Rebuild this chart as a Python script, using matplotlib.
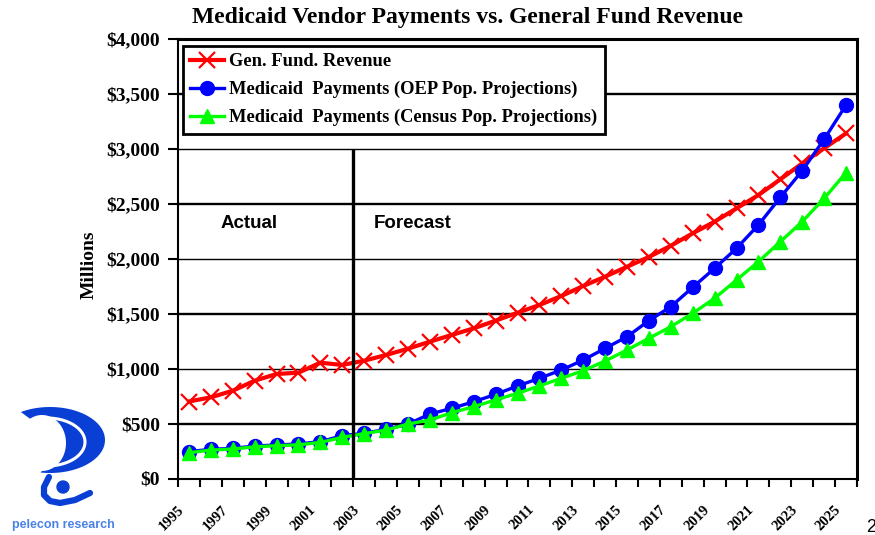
import numpy as np
import matplotlib.pyplot as plt
from matplotlib.ticker import FixedLocator, FuncFormatter
from matplotlib.transforms import ScaledTranslation
from matplotlib.patches import Polygon, Circle

# data ($ millions)
years = list(range(1995, 2026))
revenue = [700, 738, 798, 889, 950, 962, 1053, 1032,
           1071, 1123, 1180, 1244, 1305, 1365, 1435, 1507, 1577, 1659, 1750, 1835, 1925, 2014,
           2116, 2229, 2335, 2456, 2577, 2720, 2865, 3002, 3138]
oep = [245, 265, 274, 295, 305, 314, 335, 389,
       411, 447, 495, 586, 638, 698, 765, 841, 911, 986, 1077, 1183, 1289, 1435,
       1562, 1738, 1911, 2093, 2305, 2556, 2798, 3084, 3395]
census = [235, 258, 268, 288, 298, 306, 328, 374,
          408, 440, 495, 532, 598, 653, 714, 775, 841, 911, 980, 1068, 1168, 1275,
          1380, 1502, 1638, 1805, 1971, 2153, 2335, 2547, 2780]
labels = ['Gen. Fund. Revenue',
          'Medicaid  Payments (OEP Pop. Projections)',
          'Medicaid  Payments (Census Pop. Projections)']

split_x = 7.5          # between 2002 and 2003
split_top = 3000
serif = 'Liberation Serif'
sans = 'Liberation Sans'

fig = plt.figure(figsize=(8.75, 5.35), dpi=100)
ax = fig.add_axes([178/875, 56.5/535, 679/875, 440/535])

x = np.arange(len(years))
ax.plot(x, revenue, color='#ff0000', lw=3, marker='x', ms=11, mew=1.6, zorder=3, label=labels[0])
ax.plot(x, oep, color='#0000ff', lw=2.4, marker='o', ms=10, zorder=4, label=labels[1])
ax.plot(x, census, color='#00ff00', lw=2.4, marker='^', ms=10, zorder=5, label=labels[2])

ax.vlines(split_x, 0, split_top, color='black', lw=2.4, zorder=6)
ax.text(1.45, 2314, 'Actual', family=sans, weight='bold', fontsize=13.5, va='center')
ax.text(8.45, 2314, 'Forecast', family=sans, weight='bold', fontsize=13.5, va='center')

ax.set_xlim(-0.5, len(years) - 0.5)
ax.set_ylim(0, 4000)
ax.set_yticks(np.arange(0, 4001, 500))
ax.yaxis.set_major_formatter(FuncFormatter(lambda v, p: '${:,.0f}'.format(v)))
ax.yaxis.grid(True, color='black')
for i, gl in enumerate(ax.get_ygridlines()):
    gl.set_linewidth(1.7 if i % 2 else 1.0)
ax.set_axisbelow(True)

ax.xaxis.set_major_locator(FixedLocator(np.arange(-0.5, len(years), 1)))
ax.xaxis.set_major_formatter(FuncFormatter(lambda v, p: ''))
ax.xaxis.set_minor_locator(FixedLocator(x[::2]))
ax.xaxis.set_minor_formatter(FuncFormatter(lambda v, p: str(years[int(round(v))])))
ax.tick_params(axis='x', which='major', direction='out', length=6, width=1.5)
ax.tick_params(axis='x', which='minor', length=0, pad=21)
ax.tick_params(axis='y', direction='out', length=7, width=1.5, pad=6)
for lab in ax.get_xticklabels(minor=True):
    lab.set_rotation(45)
    lab.set_ha('right')
    lab.set_va('center')
    lab.set_rotation_mode('anchor')
    lab.set_family(serif)
    lab.set_weight('bold')
    lab.set_fontsize(10.5)
    lab.set_transform(lab.get_transform() + ScaledTranslation(-0.07, 0, fig.dpi_scale_trans))
for lab in ax.get_yticklabels():
    lab.set_family(serif)
    lab.set_weight('bold')
    lab.set_fontsize(14)

for side in ['left', 'bottom']:
    ax.spines[side].set_linewidth(1.5)
for side in ['top', 'right']:
    ax.spines[side].set_linewidth(2.2)

ax.set_ylabel('Millions', family=serif, weight='bold', fontsize=14)
ax.yaxis.set_label_coords(-0.118, 0.485)

fig.text(468/875, 1 - 18/535, 'Medicaid Vendor Payments vs. General Fund Revenue',
         family=serif, weight='bold', fontsize=17, ha='center', va='center')

leg = ax.legend(loc='upper left', bbox_to_anchor=(0.0074, 0.983), borderaxespad=0,
                prop={'family': serif, 'weight': 'bold', 'size': 13.3},
                fancybox=False, framealpha=1, edgecolor='black', numpoints=1,
                handlelength=1.8, handletextpad=0.3, labelspacing=0.58, borderpad=0.4)
leg.get_frame().set_linewidth(2)
leg.set_zorder(10)

# rough sketch of the logo in the lower left corner
lax = fig.add_axes([0, 0, 130/875, 140/535])
lax.set_xlim(0, 130)
lax.set_ylim(0, 140)
lax.axis('off')
logo_blue = '#0a3fd6'
t_out = np.radians(np.linspace(122, -100, 80))
t_in = np.radians(np.linspace(-90, 120, 80))
outer = np.column_stack([50 + 55*np.cos(t_out), 95 + 33*np.sin(t_out)])
inner = np.column_stack([42 + 24*np.cos(t_in), 92 + 28*np.sin(t_in)])
lax.add_patch(Polygon(np.vstack([outer, inner]), closed=True, color=logo_blue, lw=0))
t2 = np.radians(np.linspace(128, -105, 60))
lax.plot(47 + 38*np.cos(t2), 93 + 24*np.sin(t2), color='white', lw=2.2)
lax.add_patch(Circle((63, 48), 6, color=logo_blue))
lax.plot([49, 44, 44, 50, 60, 75, 90], [58, 48, 40, 34, 32, 35, 42],
         color=logo_blue, lw=4.5, solid_capstyle='round', solid_joinstyle='round')
lax.text(63, 10, 'pelecon research', family=sans, weight='bold', fontsize=9,
         color='#4a82e8', ha='center', va='center')

fig.text(866/875, 1 - 527/535, '2', family=sans, fontsize=13, va='center')

fig.savefig('out.png', dpi=100)
